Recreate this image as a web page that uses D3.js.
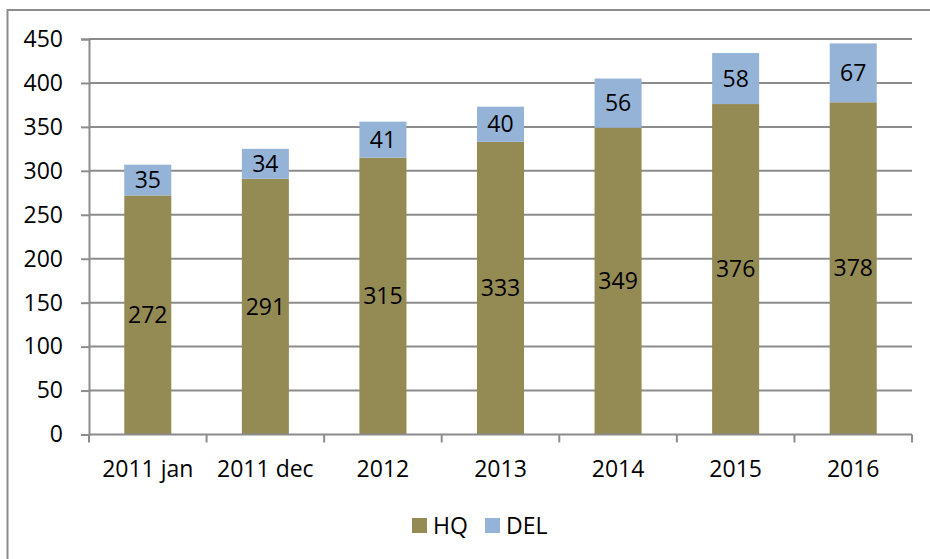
<!DOCTYPE html>
<html>
<head>
<meta charset="utf-8">
<script src="https://cdn.jsdelivr.net/npm/d3@7"></script>
<style>
  body { margin: 0; background: #fff; }
  svg { display: block; font-family: "Open Sans", sans-serif; }
</style>
</head>
<body>
<svg id="chart"></svg>
<script>
let categories = ['2011 jan', '2011 dec', '2012', '2013', '2014', '2015', '2016'];
let hqValues = [272, 291, 315, 333, 349, 376, 378];
let delValues = [35, 34, 41, 40, 56, 58, 67];
let yTicks = [0, 50, 100, 150, 200, 250, 300, 350, 400, 450];
let seriesNames = ['HQ', 'DEL'];

let w = 930;
let h = 559;
let plotLeft = 89, plotRight = 912, plotTop = 39, plotBottom = 434.5;
let colors = { HQ: '#948a54', DEL: '#95b3d7' };
let fontSize = 23;

let svg = d3.select('#chart').attr('width', w).attr('height', h);

// outer chart border (only left/top visible in frame)
svg.append('rect')
    .attr('x', 7.5)
    .attr('y', 10)
    .attr('width', 1000)
    .attr('height', 1000)
    .attr('fill', 'none')
    .attr('stroke', '#8c8c8c')
    .attr('stroke-width', 2);

let xScale = d3.scaleBand()
    .domain(categories)
    .range([plotLeft, plotRight])
    .padding(0);

let yScale = d3.scaleLinear()
    .domain([0, 450])
    .range([plotBottom, plotTop]);

// gridlines + y axis
let yAxis = d3.axisLeft(yScale)
    .tickValues(yTicks)
    .tickSize(8)
    .tickPadding(18);

let gy = svg.append('g')
    .attr('transform', 'translate(' + plotLeft + ',0)')
    .call(yAxis);
gy.select('.domain').attr('stroke', '#8c8c8c').attr('stroke-width', 2);
gy.selectAll('.tick line').attr('stroke', '#8c8c8c').attr('stroke-width', 2);
gy.selectAll('.tick text')
    .attr('font-size', fontSize)
    .attr('font-family', '"Open Sans", sans-serif')
    .attr('fill', '#000');

svg.append('g')
    .selectAll('line')
    .data(yTicks.filter(d => d > 0))
    .enter()
    .append('line')
    .attr('x1', plotLeft)
    .attr('x2', plotRight)
    .attr('y1', d => yScale(d))
    .attr('y2', d => yScale(d))
    .attr('stroke', '#8c8c8c')
    .attr('stroke-width', 2);

// bars
let barW = xScale.bandwidth() * 0.4;
let bars = svg.append('g');

bars.selectAll('rect.hq')
    .data(categories)
    .enter()
    .append('rect')
    .attr('class', 'hq')
    .attr('x', d => xScale(d) + (xScale.bandwidth() - barW) / 2)
    .attr('width', barW)
    .attr('y', (d, i) => yScale(hqValues[i]))
    .attr('height', (d, i) => yScale(0) - yScale(hqValues[i]))
    .attr('fill', colors.HQ);

bars.selectAll('rect.del')
    .data(categories)
    .enter()
    .append('rect')
    .attr('class', 'del')
    .attr('x', d => xScale(d) + (xScale.bandwidth() - barW) / 2)
    .attr('width', barW)
    .attr('y', (d, i) => yScale(hqValues[i] + delValues[i]))
    .attr('height', (d, i) => yScale(hqValues[i]) - yScale(hqValues[i] + delValues[i]))
    .attr('fill', colors.DEL);

// value labels
bars.selectAll('text.hq')
    .data(categories)
    .enter()
    .append('text')
    .attr('class', 'hq')
    .attr('x', d => xScale(d) + xScale.bandwidth() / 2)
    .attr('y', (d, i) => yScale(hqValues[i] / 2))
    .attr('dy', '0.35em')
    .attr('text-anchor', 'middle')
    .attr('font-size', fontSize)
    .text((d, i) => hqValues[i]);

bars.selectAll('text.del')
    .data(categories)
    .enter()
    .append('text')
    .attr('class', 'del')
    .attr('x', d => xScale(d) + xScale.bandwidth() / 2)
    .attr('y', (d, i) => yScale(hqValues[i] + delValues[i] / 2))
    .attr('dy', '0.35em')
    .attr('text-anchor', 'middle')
    .attr('font-size', fontSize)
    .text((d, i) => delValues[i]);

// x axis: ticks at category boundaries
let gx = svg.append('g').attr('transform', 'translate(0,' + plotBottom + ')');
gx.append('line')
    .attr('x1', plotLeft)
    .attr('x2', plotRight)
    .attr('stroke', '#8c8c8c')
    .attr('stroke-width', 2);
let boundaries = categories.map(d => xScale(d)).concat([plotRight]);
gx.selectAll('line.tk')
    .data(boundaries)
    .enter()
    .append('line')
    .attr('class', 'tk')
    .attr('x1', d => d)
    .attr('x2', d => d)
    .attr('y1', 0)
    .attr('y2', 8)
    .attr('stroke', '#8c8c8c')
    .attr('stroke-width', 2);
gx.selectAll('text')
    .data(categories)
    .enter()
    .append('text')
    .attr('x', d => xScale(d) + xScale.bandwidth() / 2)
    .attr('y', 34)
    .attr('dy', '0.35em')
    .attr('text-anchor', 'middle')
    .attr('font-size', fontSize)
    .text(d => d);

// legend
let legend = svg.append('g');
let legendX = [412, 485];
seriesNames.forEach((name, i) => {
    legend.append('rect')
        .attr('x', legendX[i])
        .attr('y', 518)
        .attr('width', 15)
        .attr('height', 15)
        .attr('fill', colors[name]);
    legend.append('text')
        .attr('x', legendX[i] + 21)
        .attr('y', 525.5)
        .attr('dy', '0.35em')
        .attr('font-size', fontSize)
        .text(name);
});
</script>
</body>
</html>
